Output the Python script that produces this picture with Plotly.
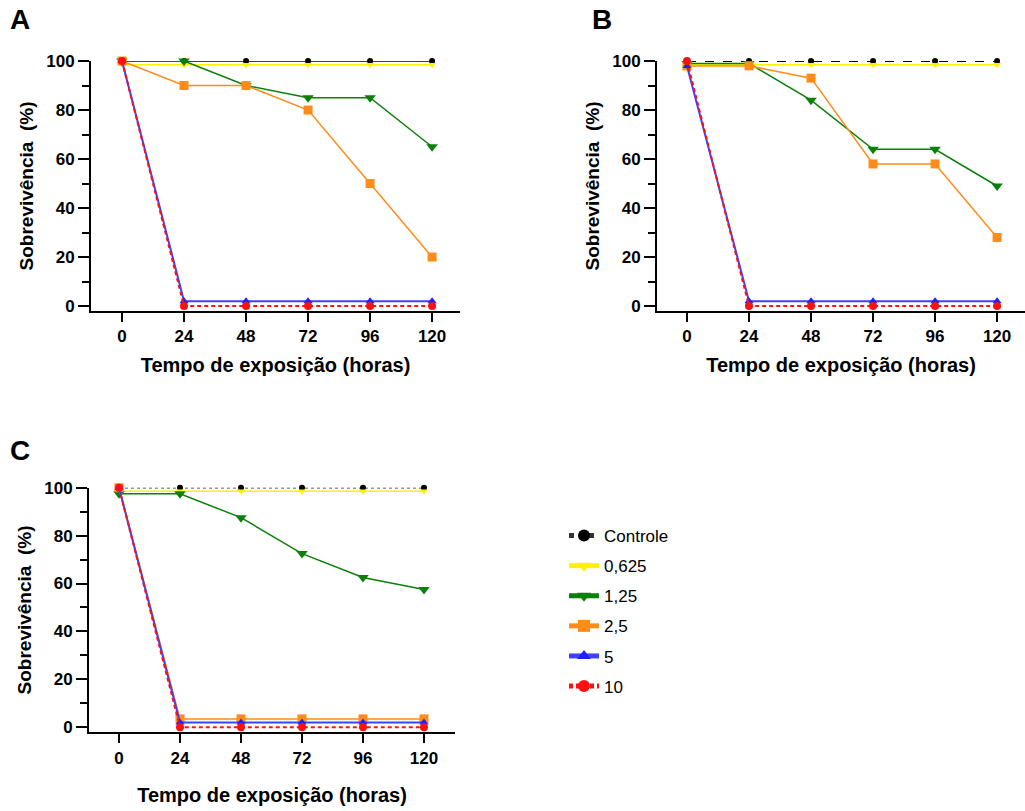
import plotly.graph_objects as go

HOURS = [0, 24, 48, 72, 96, 120]
X_TICKS = [0, 24, 48, 72, 96, 120]
Y_TICKS = [0, 20, 40, 60, 80, 100]
SERIES = ["Controle", "0,625", "1,25", "2,5", "5", "10"]

# Panel A
A_CONTROLE = [100, 100, 100, 100, 100, 100]
A_0625 = [98.5, 98.5, 98.5, 98.5, 98.5, 98.5]
A_125 = [100, 100, 90, 85, 85, 65]
A_25 = [100, 90, 90, 80, 50, 20]
A_5 = [100, 2, 2, 2, 2, 2]
A_10 = [100, 0, 0, 0, 0, 0]

# Panel B
B_CONTROLE = [100, 100, 100, 100, 100, 100]
B_0625 = [98.5, 98.5, 98.5, 98.5, 98.5, 98.5]
B_125 = [99, 99, 84, 64, 64, 49]
B_25 = [98, 98, 93, 58, 58, 28]
B_5 = [98, 2, 2, 2, 2, 2]
B_10 = [100, 0, 0, 0, 0, 0]

# Panel C
C_CONTROLE = [100, 100, 100, 100, 100, 100]
C_0625 = [98.5, 98.5, 98.5, 98.5, 98.5, 98.5]
C_125 = [97.5, 97.5, 87.5, 72.5, 62.5, 57.5]
C_25 = [100, 3.5, 3.5, 3.5, 3.5, 3.5]
C_5 = [100, 2, 2, 2, 2, 2]
C_10 = [100, 0, 0, 0, 0, 0]

FONT = "Arial, Liberation Sans, sans-serif"

panels = [
    ("A", [A_CONTROLE, A_0625, A_125, A_25, A_5, A_10], "x", "y"),
    ("B", [B_CONTROLE, B_0625, B_125, B_25, B_5, B_10], "x2", "y2"),
    ("C", [C_CONTROLE, C_0625, C_125, C_25, C_5, C_10], "x3", "y3"),
]

control_line = {
    "A": dict(color="#404040", width=2.2, dash="solid"),
    "B": dict(color="black", width=2, dash="dash"),
    "C": dict(color="#333333", width=1.5, dash="dot"),
}

styles = [
    None,
    dict(line=dict(color="#FFF200", width=1.5), marker=dict(symbol="triangle-down", size=7, color="#FFF200")),
    dict(line=dict(color="#0A800A", width=1.5), marker=dict(symbol="triangle-down", size=10, color="#0A800A")),
    dict(line=dict(color="#FF8C1A", width=1.5), marker=dict(symbol="square", size=9, color="#FF8C1A")),
    dict(line=dict(color="#4040FF", width=2), marker=dict(symbol="triangle-up", size=8, color="#2020FF")),
    dict(line=dict(color="#FF1010", width=2, dash="4px,3px"), marker=dict(symbol="circle", size=8, color="#FF1010")),
]

fig = go.Figure()
for letter, data, xa, ya in panels:
    for i, (name, vals) in enumerate(zip(SERIES, data)):
        if i == 0:
            st = dict(line=control_line[letter], marker=dict(symbol="circle", size=6, color="black"))
        else:
            st = styles[i]
        fig.add_trace(go.Scatter(
            x=HOURS, y=vals, name=name, mode="lines+markers",
            xaxis=xa, yaxis=ya, cliponaxis=False,
            legendgroup=name, showlegend=(letter == "C"),
            line=st["line"], marker=st["marker"],
        ))

def xaxis(domain, rng, standoff):
    return dict(
        domain=domain, range=rng, tickvals=X_TICKS, ticktext=[str(v) for v in X_TICKS],
        showline=True, linecolor="black", linewidth=2, ticks="outside", ticklen=9,
        tickwidth=2, tickcolor="black", showgrid=False, zeroline=False, automargin=False,
        tickfont=dict(family=FONT, size=17, color="black", weight="bold"),
        title=dict(text="<b>Tempo de exposição (horas)</b>", standoff=standoff,
                   font=dict(family=FONT, size=20, color="black")),
    )

def yaxis(domain, rng, anchor):
    return dict(
        domain=domain, range=rng, tickvals=Y_TICKS, anchor=anchor,
        showline=True, linecolor="black", linewidth=2, ticks="outside", ticklen=11,
        tickwidth=2, tickcolor="black", showgrid=False, zeroline=False, automargin=False,
        minor=dict(dtick=10, tick0=0, ticks="outside", ticklen=7, tickwidth=2, tickcolor="black"),
        tickfont=dict(family=FONT, size=17, color="black", weight="bold"),
        title=dict(text="<b>Sobrevivência  (%)</b>", standoff=8,
                   font=dict(family=FONT, size=19, color="black")),
    )

fig.update_layout(
    width=1025, height=811, margin=dict(l=0, r=0, t=0, b=0, autoexpand=False),
    paper_bgcolor="white", plot_bgcolor="white",
    font=dict(family=FONT, color="black"),
    xaxis=dict(**xaxis([91/1025, 460/1025], [-12, 130.8], 13), anchor="y"),
    yaxis=yaxis([1-311/811, 1-61/811], [-2, 100], "x"),
    xaxis2=dict(**xaxis([657/1025, 1.0], [-11.6, 130.8], 13), anchor="y2"),
    yaxis2=yaxis([1-311/811, 1-61/811], [-2, 100], "x2"),
    xaxis3=dict(**xaxis([89/1025, 455/1025], [-11.8, 132.2], 21), anchor="y3"),
    yaxis3=yaxis([1-732.3/811, 1-487.7/811], [-2.1, 100], "x3"),
    legend=dict(x=564/1025, y=1-518/811, xanchor="left", yanchor="top",
                font=dict(family=FONT, size=17, color="black"),
                tracegroupgap=5, itemsizing="constant", bgcolor="rgba(0,0,0,0)"),
    showlegend=True,
)

for letter, px, py in [("A", 20, 20), ("B", 602, 20), ("C", 20, 450)]:
    fig.add_annotation(text=f"<b>{letter}</b>", x=px/1025, y=1-py/811, xref="paper", yref="paper",
                       showarrow=False, xanchor="center", yanchor="middle",
                       font=dict(family=FONT, size=28, color="black"))

fig.write_html("out.html", config={"displayModeBar": False},
               post_script="document.body.style.margin='0';document.body.style.overflow='hidden';")
